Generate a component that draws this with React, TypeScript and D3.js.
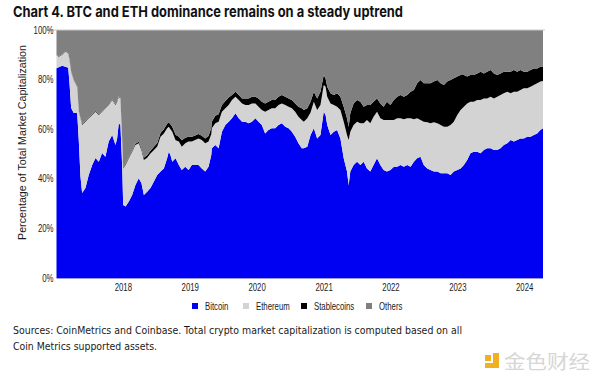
import React from 'react';
import * as d3 from 'd3';

// ---- data (share of total crypto market cap, %) ----
const dates = [
  '2017-01-01','2017-01-13','2017-02-01','2017-02-19','2017-03-06','2017-03-13','2017-03-22','2017-04-05','2017-04-24','2017-05-03',
  '2017-05-12','2017-05-21','2017-06-08','2017-06-26','2017-07-15','2017-08-02','2017-08-20','2017-09-07','2017-09-25','2017-10-13',
  '2017-11-01','2017-11-19','2017-11-28','2017-12-07','2017-12-16','2017-12-26','2017-12-31','2018-01-13','2018-01-31','2018-02-18',
  '2018-03-08','2018-03-26','2018-04-10','2018-04-23','2018-05-11','2018-05-29','2018-06-16','2018-07-05','2018-07-23','2018-08-10',
  '2018-08-28','2018-09-06','2018-09-15','2018-09-25','2018-10-13','2018-10-31','2018-11-16','2018-12-05','2018-12-23','2019-01-10',
  '2019-01-28','2019-02-15','2019-03-05','2019-03-24','2019-04-11','2019-04-26','2019-04-29','2019-05-18','2019-06-05','2019-06-23',
  '2019-07-12','2019-07-30','2019-08-17','2019-09-05','2019-09-23','2019-10-11','2019-10-29','2019-11-16','2019-12-04','2019-12-23',
  '2020-01-09','2020-01-27','2020-02-14','2020-03-03','2020-03-21','2020-04-09','2020-04-27','2020-05-15','2020-06-03','2020-06-21',
  '2020-07-09','2020-07-27','2020-08-14','2020-09-01','2020-09-12','2020-10-01','2020-10-19','2020-11-06','2020-11-24','2020-12-12',
  '2020-12-30','2021-01-09','2021-01-18','2021-02-05','2021-02-23','2021-03-13','2021-03-31','2021-04-18','2021-05-06','2021-05-15',
  '2021-05-24','2021-06-11','2021-06-30','2021-07-18','2021-08-05','2021-08-23','2021-09-10','2021-09-28','2021-10-17','2021-11-04',
  '2021-11-22','2021-12-10','2021-12-29','2022-01-17','2022-02-04','2022-02-22','2022-03-12','2022-03-31','2022-04-18','2022-05-06',
  '2022-05-24','2022-06-11','2022-06-29','2022-07-18','2022-08-05','2022-08-23','2022-09-11','2022-09-29','2022-10-17','2022-11-04',
  '2022-11-22','2022-12-10','2022-12-29','2023-01-16','2023-02-03','2023-02-21','2023-03-11','2023-03-29','2023-04-17','2023-05-05',
  '2023-05-23','2023-06-10','2023-06-29','2023-07-17','2023-08-04','2023-08-22','2023-09-09','2023-09-28','2023-10-16','2023-11-03',
  '2023-11-21','2023-12-09','2023-12-27','2024-01-15','2024-02-02','2024-02-20','2024-03-09','2024-03-27','2024-04-10',
];

const bitcoin = [
  84.6, 85.0, 85.6, 85.2, 84.8, 78.6, 68.5, 66.5, 66.5, 55.0,
  40.8, 34.3, 36.3, 41.5, 45.6, 48.4, 46.9, 50.4, 48.9, 55.0,
  57.7, 53.6, 56.3, 62.4, 61.7, 44.3, 29.4, 28.8, 30.8, 33.5,
  37.5, 40.2, 38.2, 33.5, 34.8, 36.3, 38.8, 41.5, 42.9, 44.2,
  48.3, 50.9, 49.6, 46.9, 48.3, 45.6, 43.5, 44.9, 43.5, 45.6,
  45.6, 45.6, 44.2, 42.9, 44.9, 49.6, 52.3, 53.6, 52.3, 59.0,
  61.7, 63.0, 64.4, 66.4, 64.4, 63.0, 63.0, 62.4, 63.0, 64.4,
  63.0, 61.7, 58.3, 59.7, 60.4, 60.4, 61.7, 62.4, 61.0, 60.4,
  59.0, 57.0, 54.3, 52.3, 52.3, 52.9, 57.7, 60.4, 56.3, 57.7,
  67.0, 65.7, 61.7, 57.7, 59.0, 59.7, 56.3, 48.3, 42.9, 37.5,
  42.9, 45.6, 46.9, 45.6, 46.9, 44.2, 42.9, 45.6, 48.3, 45.6,
  43.5, 42.9, 43.5, 44.9, 44.9, 45.6, 44.9, 45.6, 44.9, 46.9,
  48.3, 48.9, 45.6, 44.2, 43.5, 42.9, 42.9, 42.2, 42.2, 42.2,
  41.5, 42.9, 43.5, 44.2, 45.6, 47.6, 50.3, 50.9, 50.9, 50.3,
  51.6, 52.3, 52.3, 51.6, 51.6, 52.3, 53.6, 54.3, 55.6, 55.0,
  55.6, 56.3, 56.3, 57.0, 57.0, 57.7, 58.3, 59.7, 60.4,
];

const ethereum = [
  5.3, 4.2, 4.4, 6.1, 5.7, 9.4, 14.7, 13.3, 10.6, 12.0,
  23.6, 27.4, 26.7, 22.9, 20.1, 18.6, 18.8, 16.6, 19.5, 14.8,
  14.1, 16.2, 14.7, 10.7, 10.7, 10.7, 14.8, 16.8, 17.5, 17.4,
  16.1, 14.1, 13.3, 14.1, 13.7, 13.9, 12.7, 11.5, 14.1, 14.1,
  12.1, 10.1, 10.4, 12.1, 7.2, 9.4, 9.4, 9.4, 11.5, 9.4,
  10.0, 10.7, 11.4, 11.4, 10.1, 8.4, 8.1, 8.8, 10.7, 8.0,
  6.7, 6.8, 7.4, 6.7, 7.4, 7.4, 6.8, 7.4, 7.4, 6.0,
  6.1, 6.0, 8.7, 8.0, 8.0, 8.0, 8.1, 8.0, 8.8, 8.7,
  9.4, 10.0, 10.7, 11.4, 10.7, 11.5, 9.0, 10.7, 11.4, 12.1,
  10.8, 11.4, 11.4, 12.7, 10.8, 9.4, 11.4, 14.7, 14.8, 18.1,
  16.1, 16.1, 16.1, 16.8, 15.5, 19.5, 19.5, 19.4, 18.7, 18.8,
  20.2, 20.8, 20.2, 18.8, 19.5, 18.8, 19.1, 18.8, 19.5, 17.1,
  16.1, 14.8, 17.4, 18.6, 18.9, 19.9, 19.5, 19.5, 18.8, 18.8,
  20.2, 20.1, 22.2, 23.5, 23.5, 22.8, 20.8, 20.2, 20.9, 21.5,
  20.8, 20.1, 20.8, 20.8, 21.5, 21.5, 20.9, 20.8, 18.9, 20.1,
  19.5, 19.5, 20.2, 19.5, 20.1, 20.1, 20.2, 19.5, 19.0,
];

const stablecoins = [
  0.1, 0.2, 0.2, 0.2, 0.2, 0.2, 0.2, 0.2, 0.2, 0.2,
  0.2, 0.3, 0.3, 0.3, 0.3, 0.3, 0.3, 0.3, 0.3, 0.3,
  0.3, 0.3, 0.3, 0.3, 0.3, 0.3, 0.3, 0.4, 0.4, 0.4,
  0.5, 0.6, 0.7, 0.9, 1.0, 1.1, 1.3, 1.4, 1.5, 1.7,
  1.8, 1.8, 2.0, 2.0, 2.3, 2.0, 2.6, 2.3, 2.0, 2.0,
  1.9, 1.8, 1.8, 2.0, 2.3, 2.5, 2.6, 3.0, 3.0, 2.8,
  3.0, 3.0, 2.0, 2.0, 2.0, 2.0, 2.6, 2.6, 2.7, 2.7,
  3.3, 3.4, 3.4, 3.4, 3.4, 3.4, 3.3, 3.4, 3.3, 3.3,
  3.4, 3.4, 4.1, 4.7, 4.7, 4.0, 4.4, 4.0, 4.7, 5.3,
  4.1, 3.3, 4.0, 4.1, 4.0, 5.4, 5.4, 6.1, 6.7, 5.4,
  7.4, 8.7, 8.8, 8.7, 6.7, 6.1, 7.4, 6.1, 5.4, 6.0,
  5.4, 7.4, 6.1, 8.1, 8.7, 9.4, 9.1, 9.4, 10.7, 11.8,
  14.1, 16.1, 15.5, 15.7, 16.1, 16.4, 17.4, 16.8, 16.8, 18.2,
  18.1, 17.5, 15.5, 14.2, 12.8, 10.8, 10.8, 10.8, 10.7, 11.4,
  10.1, 10.8, 10.8, 10.1, 8.8, 8.7, 8.7, 8.1, 8.7, 8.8,
  8.1, 8.1, 6.7, 6.7, 6.8, 6.7, 6.0, 6.0, 5.8,
];

const seriesNames = ['Bitcoin', 'Ethereum', 'Stablecoins', 'Others'];
const seriesKeys = ['bitcoin', 'ethereum', 'stablecoins', 'others'];
const seriesColors = ['#0000f2', '#d3d3d3', '#000000', '#808080'];
const yTickValues = [0, 20, 40, 60, 80, 100];
const yearTicks = ['2018', '2019', '2020', '2021', '2022', '2023', '2024'];

const title = 'Chart 4. BTC and ETH dominance remains on a steady uptrend';
const yLabel = 'Percentage of Total Market Capitalization';
const sourceLines = [
  'Sources: CoinMetrics and Coinbase. Total crypto market capitalization is computed based on all',
  'Coin Metrics supported assets.',
];

const W = 600;
const H = 381;
const M = { left: 56.5, right: 543, top: 30, bottom: 278 };

const parse = d3.utcParse('%Y-%m-%d');

const NARROW = 0.78;
const AXIS_FONT = 'Liberation Sans, Arial, Helvetica, sans-serif';

function NText({ x, y, anchor = 'start', size = 10, children }: any) {
  return (
    <text
      transform={`translate(${x},${y}) scale(${NARROW},1)`}
      textAnchor={anchor}
      fontSize={size}
      fontFamily={AXIS_FONT}
      fill="#1a1a1a"
    >
      {children}
    </text>
  );
}

export default function App() {
  const table = dates.map((d, i) => ({
    date: parse(d) as Date,
    bitcoin: bitcoin[i],
    ethereum: ethereum[i],
    stablecoins: stablecoins[i],
    others: Math.max(0, 100 - bitcoin[i] - ethereum[i] - stablecoins[i]),
  }));

  const x = d3
    .scaleUtc()
    .domain([table[0].date, table[table.length - 1].date])
    .range([M.left, M.right]);
  const y = d3.scaleLinear().domain([0, 100]).range([M.bottom, M.top]);

  const stack = d3.stack<any>().keys(seriesKeys);
  const layers = stack(table);
  const area = d3
    .area<any>()
    .x((d) => x(d.data.date))
    .y0((d) => y(d[0]))
    .y1((d) => y(d[1]))
    .curve(d3.curveLinear);

  const legendX = [192, 243, 301, 366];

  return (
    <svg
      width={W}
      height={H}
      viewBox={`0 0 ${W} ${H}`}
      style={{ position: 'absolute', left: 0, top: 0, background: '#fff' }}
    >
      <rect x={0} y={0} width={W} height={H} fill="#fff" />
      <text
        x={13}
        y={17}
        fontSize={15}
        fontWeight={700}
        fontFamily="Inter, Roboto, 'Liberation Sans', sans-serif"
        fill="#111"
        textLength={390}
        lengthAdjust="spacingAndGlyphs"
      >
        {title}
      </text>

      {layers.map((layer, i) => (
        <path key={layer.key} d={area(layer) || ''} fill={seriesColors[i]} />
      ))}

      <line x1={M.left - 8} x2={M.right + 2} y1={M.top} y2={M.top} stroke="#c8c8c8" strokeWidth={1} />
      <line x1={M.left} x2={M.right} y1={M.bottom + 0.5} y2={M.bottom + 0.5} stroke="#9a9ad8" strokeWidth={1} />

      {yTickValues.map((v) => (
        <NText key={v} x={53.5} y={y(v) + 3.5} anchor="end" size={10}>
          {`${v}%`}
        </NText>
      ))}

      {yearTicks.map((yr) => (
        <NText key={yr} x={x(parse(`${yr}-01-01`) as Date)} y={291} anchor="middle" size={10}>
          {yr}
        </NText>
      ))}

      <text
        transform={`translate(25.5,142.5) rotate(-90)`}
        textAnchor="middle"
        fontSize={11.5}
        fontFamily={AXIS_FONT}
        fill="#1a1a1a"
        textLength={195}
        lengthAdjust="spacingAndGlyphs"
      >
        {yLabel}
      </text>

      {seriesNames.map((name, i) => (
        <g key={name}>
          <rect x={legendX[i]} y={303} width={6} height={6} fill={seriesColors[i]} />
          <NText x={legendX[i] + 13} y={309.5} size={10}>
            {name}
          </NText>
        </g>
      ))}

      <text
        x={13}
        y={333.5}
        fontSize={10.5}
        fontFamily="'DejaVu Sans', Verdana, sans-serif"
        fill="#1a1a1a"
        textLength={449}
        lengthAdjust="spacingAndGlyphs"
      >
        {sourceLines[0]}
      </text>
      <text
        x={13}
        y={349.5}
        fontSize={10.5}
        fontFamily="'DejaVu Sans', Verdana, sans-serif"
        fill="#1a1a1a"
        textLength={144}
        lengthAdjust="spacingAndGlyphs"
      >
        {sourceLines[1]}
      </text>

      <g>
        <rect x={485} y={355} width={6} height={6} fill="#f0b022" />
        <path d="M493,353 h6 v15 h-14 v-5 h8 z" fill="#f0b022" />
        <text
          x={504}
          y={368.5}
          fontSize={19}
          fontFamily="'Noto Sans CJK SC', sans-serif"
          fill="#d6d6d6"
          textLength={86}
          lengthAdjust="spacingAndGlyphs"
        >
          金色财经
        </text>
      </g>
    </svg>
  );
}
